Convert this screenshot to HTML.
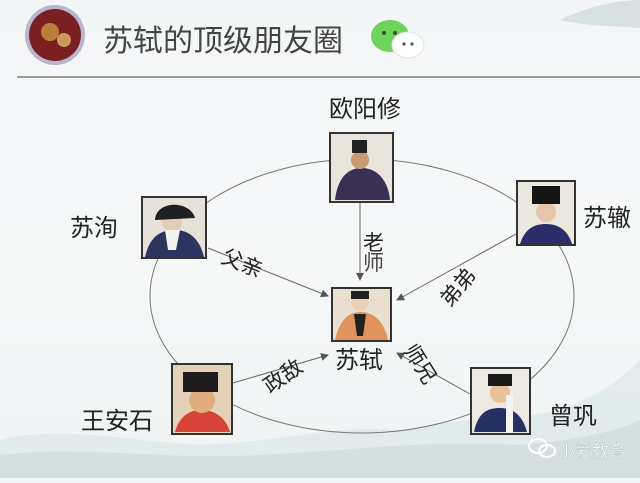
<!DOCTYPE html>
<html><head><meta charset="utf-8"><style>
html,body{margin:0;padding:0;}
body{width:640px;height:478px;overflow:hidden;background:linear-gradient(#f3f6f7,#f6f8f8 60%,#eef3f3);font-family:"Liberation Sans","Noto Sans CJK SC",sans-serif;}
</style></head><body>
<svg width="640" height="478" viewBox="0 0 640 478" xmlns="http://www.w3.org/2000/svg" font-family="'Liberation Sans','Noto Sans CJK SC',sans-serif">
<defs>
<marker id="a" markerWidth="8" markerHeight="8" refX="7" refY="4" orient="auto" markerUnits="userSpaceOnUse"><path d="M0,0 L8,4 L0,8 z" fill="#555"/></marker>
</defs>
<path d="M0,440 C60,425 120,440 200,445 C300,440 330,425 400,430 C470,415 520,420 560,410 C600,395 620,380 640,360 L640,478 L0,478 z" fill="#dfe8e8" opacity="0.8"/>
<path d="M0,455 C80,445 160,460 260,455 C360,450 420,440 520,445 C580,440 620,430 640,420 L640,478 L0,478 z" fill="#cfdcdc" opacity="0.7"/>
<path d="M560,20 C590,5 620,0 640,0 L640,28 C615,26 590,26 570,22 z" fill="#d7e1e2"/>
<circle cx="55" cy="35" r="30" fill="#b9b4cf"/>
<circle cx="55" cy="35" r="26" fill="#7a1f22"/>
<circle cx="50" cy="32" r="9" fill="#c9963f" opacity=".8"/><circle cx="64" cy="40" r="7" fill="#e1b670" opacity=".8"/>
<text x="103" y="51" font-size="30" fill="#444">苏轼的顶级朋友圈</text>
<ellipse cx="390" cy="36" rx="19" ry="16" fill="#6dd35a"/>
<circle cx="384" cy="33" r="2" fill="#2c5a24"/><circle cx="395" cy="33" r="2" fill="#2c5a24"/>
<ellipse cx="408" cy="45" rx="16" ry="13" fill="#fff" stroke="#e0e4e4"/>
<circle cx="404" cy="44" r="1.6" fill="#555"/><circle cx="412" cy="44" r="1.6" fill="#555"/>
<line x1="17" y1="77" x2="640" y2="77" stroke="#666" stroke-width="1.2"/>
<ellipse cx="362" cy="296" rx="212" ry="137" fill="none" stroke="#777" stroke-width="1"/>
<g stroke="#666" stroke-width="1" marker-end="url(#a)">
<line x1="360" y1="203" x2="360" y2="280"/>
<line x1="208" y1="248" x2="328" y2="296"/>
<line x1="516" y1="234" x2="397" y2="300"/>
<line x1="233" y1="383" x2="328" y2="355"/>
<line x1="470" y1="394" x2="397" y2="353"/>
</g>
<g stroke="#333" stroke-width="2">
<rect x="330" y="133" width="63" height="69" fill="#e9e4dc"/>
<rect x="142" y="197" width="64" height="61" fill="#e6e2da"/>
<rect x="517" y="181" width="58" height="64" fill="#ece7de"/>
<rect x="332" y="288" width="59" height="53" fill="#eadfce"/>
<rect x="172" y="364" width="60" height="70" fill="#e4d2b8"/>
<rect x="471" y="368" width="59" height="66" fill="#ece8e2"/>
</g>
<path d="M335,200 C338,175 350,168 362,168 C375,168 388,178 390,200 z" fill="#3a2f55"/><circle cx="360" cy="160" r="9" fill="#c99b74"/><rect x="352" y="140" width="15" height="13" fill="#222"/>
<path d="M145,257 C150,235 162,230 175,230 C190,230 200,240 204,257 z" fill="#2c3560"/><circle cx="172" cy="222" r="10" fill="#e2cdb5"/><path d="M155,220 C156,200 190,200 195,218 z" fill="#1f1f22"/><path d="M165,230 L180,230 L176,250 L168,250z" fill="#f4f2ee"/>
<path d="M520,244 C525,228 535,224 546,224 C558,224 568,230 572,244 z" fill="#2b2e6a"/><circle cx="546" cy="212" r="10" fill="#e6c5a8"/><rect x="532" y="186" width="28" height="18" fill="#151515"/>
<path d="M335,340 C340,318 350,312 361,312 C372,312 384,320 388,340 z" fill="#e0935c"/><circle cx="360" cy="303" r="8" fill="#ead0b5"/><rect x="351" y="291" width="18" height="8" fill="#222"/><path d="M354,314 L366,314 L363,336 L357,336z" fill="#222"/>
<path d="M175,432 C180,415 190,410 202,410 C215,410 226,418 230,432 z" fill="#d8433a"/><circle cx="202" cy="400" r="13" fill="#e2ad7e"/><rect x="183" y="372" width="35" height="20" fill="#1e1c1c"/>
<path d="M474,432 C478,412 488,408 500,408 C512,408 522,414 527,432 z" fill="#253063"/><circle cx="500" cy="393" r="10" fill="#e7c19a"/><rect x="488" y="374" width="24" height="12" fill="#1a1a1a"/><rect x="506" y="395" width="7" height="38" fill="#f6f4f2"/>
<g font-size="24" fill="#222">
<text x="329" y="117">欧阳修</text>
<text x="70" y="236">苏洵</text>
<text x="583" y="226">苏辙</text>
<text x="335" y="368">苏轼</text>
<text x="81" y="429">王安石</text>
<text x="549" y="424">曾巩</text>
</g>
<g font-size="21" fill="#222">
<text x="363" y="250">老</text>
<text x="363" y="270" fill="#444">师</text>
<text x="0" y="0" transform="translate(220,262) rotate(22)">父亲</text>
<text x="0" y="0" transform="translate(450,308) rotate(-50)">弟弟</text>
<text x="0" y="0" transform="translate(270,394) rotate(-35)">政敌</text>
<text x="0" y="0" transform="translate(403,350) rotate(58)">师兄</text>
</g>
<ellipse cx="538" cy="446" rx="9" ry="7" fill="none" stroke="#fff" stroke-width="2"/>
<ellipse cx="547" cy="451" rx="8" ry="6" fill="none" stroke="#fff" stroke-width="2"/>
<text x="558" y="457" font-size="17" fill="#fff" stroke="#9aa" stroke-width="0.3">小爱教育</text>
</svg>
</body></html>
